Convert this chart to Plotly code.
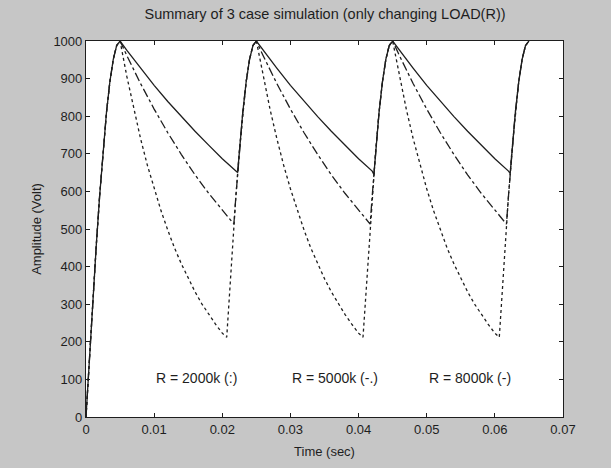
import plotly.graph_objects as go

# Time (sec) and amplitude (Volt)
t_8000k = [0, 0.0005, 0.001, 0.0015, 0.002, 0.0025, 0.003, 0.0035, 0.004, 0.0045, 0.005,
           0.006, 0.008, 0.010, 0.012, 0.014, 0.016, 0.018, 0.020, 0.022, 0.02225,
           0.023, 0.0235, 0.024, 0.0245, 0.025,
           0.026, 0.028, 0.030, 0.032, 0.034, 0.036, 0.038, 0.040, 0.042, 0.04225,
           0.043, 0.0435, 0.044, 0.0445, 0.045,
           0.046, 0.048, 0.050, 0.052, 0.054, 0.056, 0.058, 0.060, 0.062, 0.06225,
           0.063, 0.0635, 0.064, 0.0645, 0.065]
v_8000k = [0, 156, 309, 454, 588, 707, 809, 891, 951, 988, 1000,
           975, 928, 882, 839, 799, 760, 723, 687, 654, 650,
           809, 891, 951, 988, 1000,
           975, 928, 882, 839, 799, 760, 723, 687, 654, 645,
           809, 891, 951, 988, 1000,
           975, 928, 882, 839, 799, 760, 723, 687, 654, 648,
           809, 891, 951, 988, 1000]

t_5000k = [0, 0.0005, 0.001, 0.0015, 0.002, 0.0025, 0.003, 0.0035, 0.004, 0.0045, 0.005,
           0.006, 0.008, 0.010, 0.012, 0.014, 0.016, 0.018, 0.020, 0.0217,
           0.022, 0.0225, 0.023, 0.0235, 0.024, 0.0245, 0.025,
           0.026, 0.028, 0.030, 0.032, 0.034, 0.036, 0.038, 0.040, 0.0417,
           0.042, 0.0425, 0.043, 0.0435, 0.044, 0.0445, 0.045,
           0.046, 0.048, 0.050, 0.052, 0.054, 0.056, 0.058, 0.060, 0.0617,
           0.062, 0.0625, 0.063, 0.0635, 0.064, 0.0645, 0.065]
v_5000k = [0, 156, 309, 454, 588, 707, 809, 891, 951, 988, 1000,
           961, 887, 819, 756, 698, 644, 595, 549, 513,
           588, 707, 809, 891, 951, 988, 1000,
           961, 887, 819, 756, 698, 644, 595, 549, 513,
           588, 707, 809, 891, 951, 988, 1000,
           961, 887, 819, 756, 698, 644, 595, 549, 513,
           588, 707, 809, 891, 951, 988, 1000]

t_2000k = [0, 0.0005, 0.001, 0.0015, 0.002, 0.0025, 0.003, 0.0035, 0.004, 0.0045, 0.005,
           0.006, 0.007, 0.008, 0.009, 0.010, 0.011, 0.012, 0.013, 0.014, 0.015,
           0.016, 0.017, 0.018, 0.019, 0.020, 0.02065,
           0.021, 0.0215, 0.022, 0.0225, 0.023, 0.0235, 0.024, 0.0245, 0.025,
           0.026, 0.027, 0.028, 0.029, 0.030, 0.031, 0.032, 0.033, 0.034, 0.035,
           0.036, 0.037, 0.038, 0.039, 0.040, 0.04065,
           0.041, 0.0415, 0.042, 0.0425, 0.043, 0.0435, 0.044, 0.0445, 0.045,
           0.046, 0.047, 0.048, 0.049, 0.050, 0.051, 0.052, 0.053, 0.054, 0.055,
           0.056, 0.057, 0.058, 0.059, 0.060, 0.06065,
           0.061, 0.0615, 0.062, 0.0625, 0.063, 0.0635, 0.064, 0.0645, 0.065]
v_2000k = [0, 156, 309, 454, 588, 707, 809, 891, 951, 988, 1000,
           905, 819, 741, 670, 607, 549, 497, 449, 407, 368,
           333, 301, 273, 247, 223, 212,
           309, 454, 588, 707, 809, 891, 951, 988, 1000,
           905, 819, 741, 670, 607, 549, 497, 449, 407, 368,
           333, 301, 273, 247, 223, 212,
           309, 454, 588, 707, 809, 891, 951, 988, 1000,
           905, 819, 741, 670, 607, 549, 497, 449, 407, 368,
           333, 301, 273, 247, 223, 212,
           309, 454, 588, 707, 809, 891, 951, 988, 1000]

labels = ["R = 2000k (:)", "R = 5000k (-.)", "R = 8000k (-)"]
label_t = [0.01, 0.03, 0.05]
label_v = [105, 105, 105]

x_ticks = [0, 0.01, 0.02, 0.03, 0.04, 0.05, 0.06, 0.07]
x_ticktext = ["0", "0.01", "0.02", "0.03", "0.04", "0.05", "0.06", "0.07"]
y_ticks = [0, 100, 200, 300, 400, 500, 600, 700, 800, 900, 1000]

ink = "#1e1e1e"
font = "Liberation Sans, Arial, sans-serif"

fig = go.Figure()
fig.add_trace(go.Scatter(x=t_2000k, y=v_2000k, mode="lines",
                         line=dict(color=ink, width=1.3, dash="dot")))
fig.add_trace(go.Scatter(x=t_5000k, y=v_5000k, mode="lines",
                         line=dict(color=ink, width=1.3, dash="dashdot")))
fig.add_trace(go.Scatter(x=t_8000k, y=v_8000k, mode="lines",
                         line=dict(color=ink, width=1.3)))

for txt, tx, ty in zip(labels, label_t, label_v):
    fig.add_annotation(x=tx, y=ty, text=txt, showarrow=False, xanchor="left",
                       yanchor="middle", font=dict(family=font, size=14, color=ink))

axis_common = dict(showgrid=False, zeroline=False, showline=True, linecolor=ink,
                   linewidth=1.2, mirror="ticks", ticks="inside", ticklen=4,
                   tickcolor=ink, tickfont=dict(family=font, size=13, color=ink))

fig.update_xaxes(range=[0, 0.07], tickvals=x_ticks, ticktext=x_ticktext,
                 title=dict(text="Time (sec)", font=dict(family=font, size=13, color=ink),
                            standoff=11),
                 **axis_common)
fig.update_yaxes(range=[0, 1000], tickvals=y_ticks,
                 title=dict(text="Amplitude (Volt)", font=dict(family=font, size=13, color=ink),
                            standoff=8),
                 **axis_common)

fig.update_layout(
    width=611, height=468,
    margin=dict(l=86, r=48, t=41, b=51),
    paper_bgcolor="#c6c6c6", plot_bgcolor="white",
    showlegend=False,
    title=dict(text="Summary of 3 case simulation (only changing LOAD(R))",
               x=0.532, xanchor="center", y=0.97, yanchor="middle",
               font=dict(family=font, size=14.5, color=ink)),
)

fig.write_html("out.html", config={"displayModeBar": False},
               post_script="document.body.style.margin='0';document.body.style.background='#c6c6c6';")
